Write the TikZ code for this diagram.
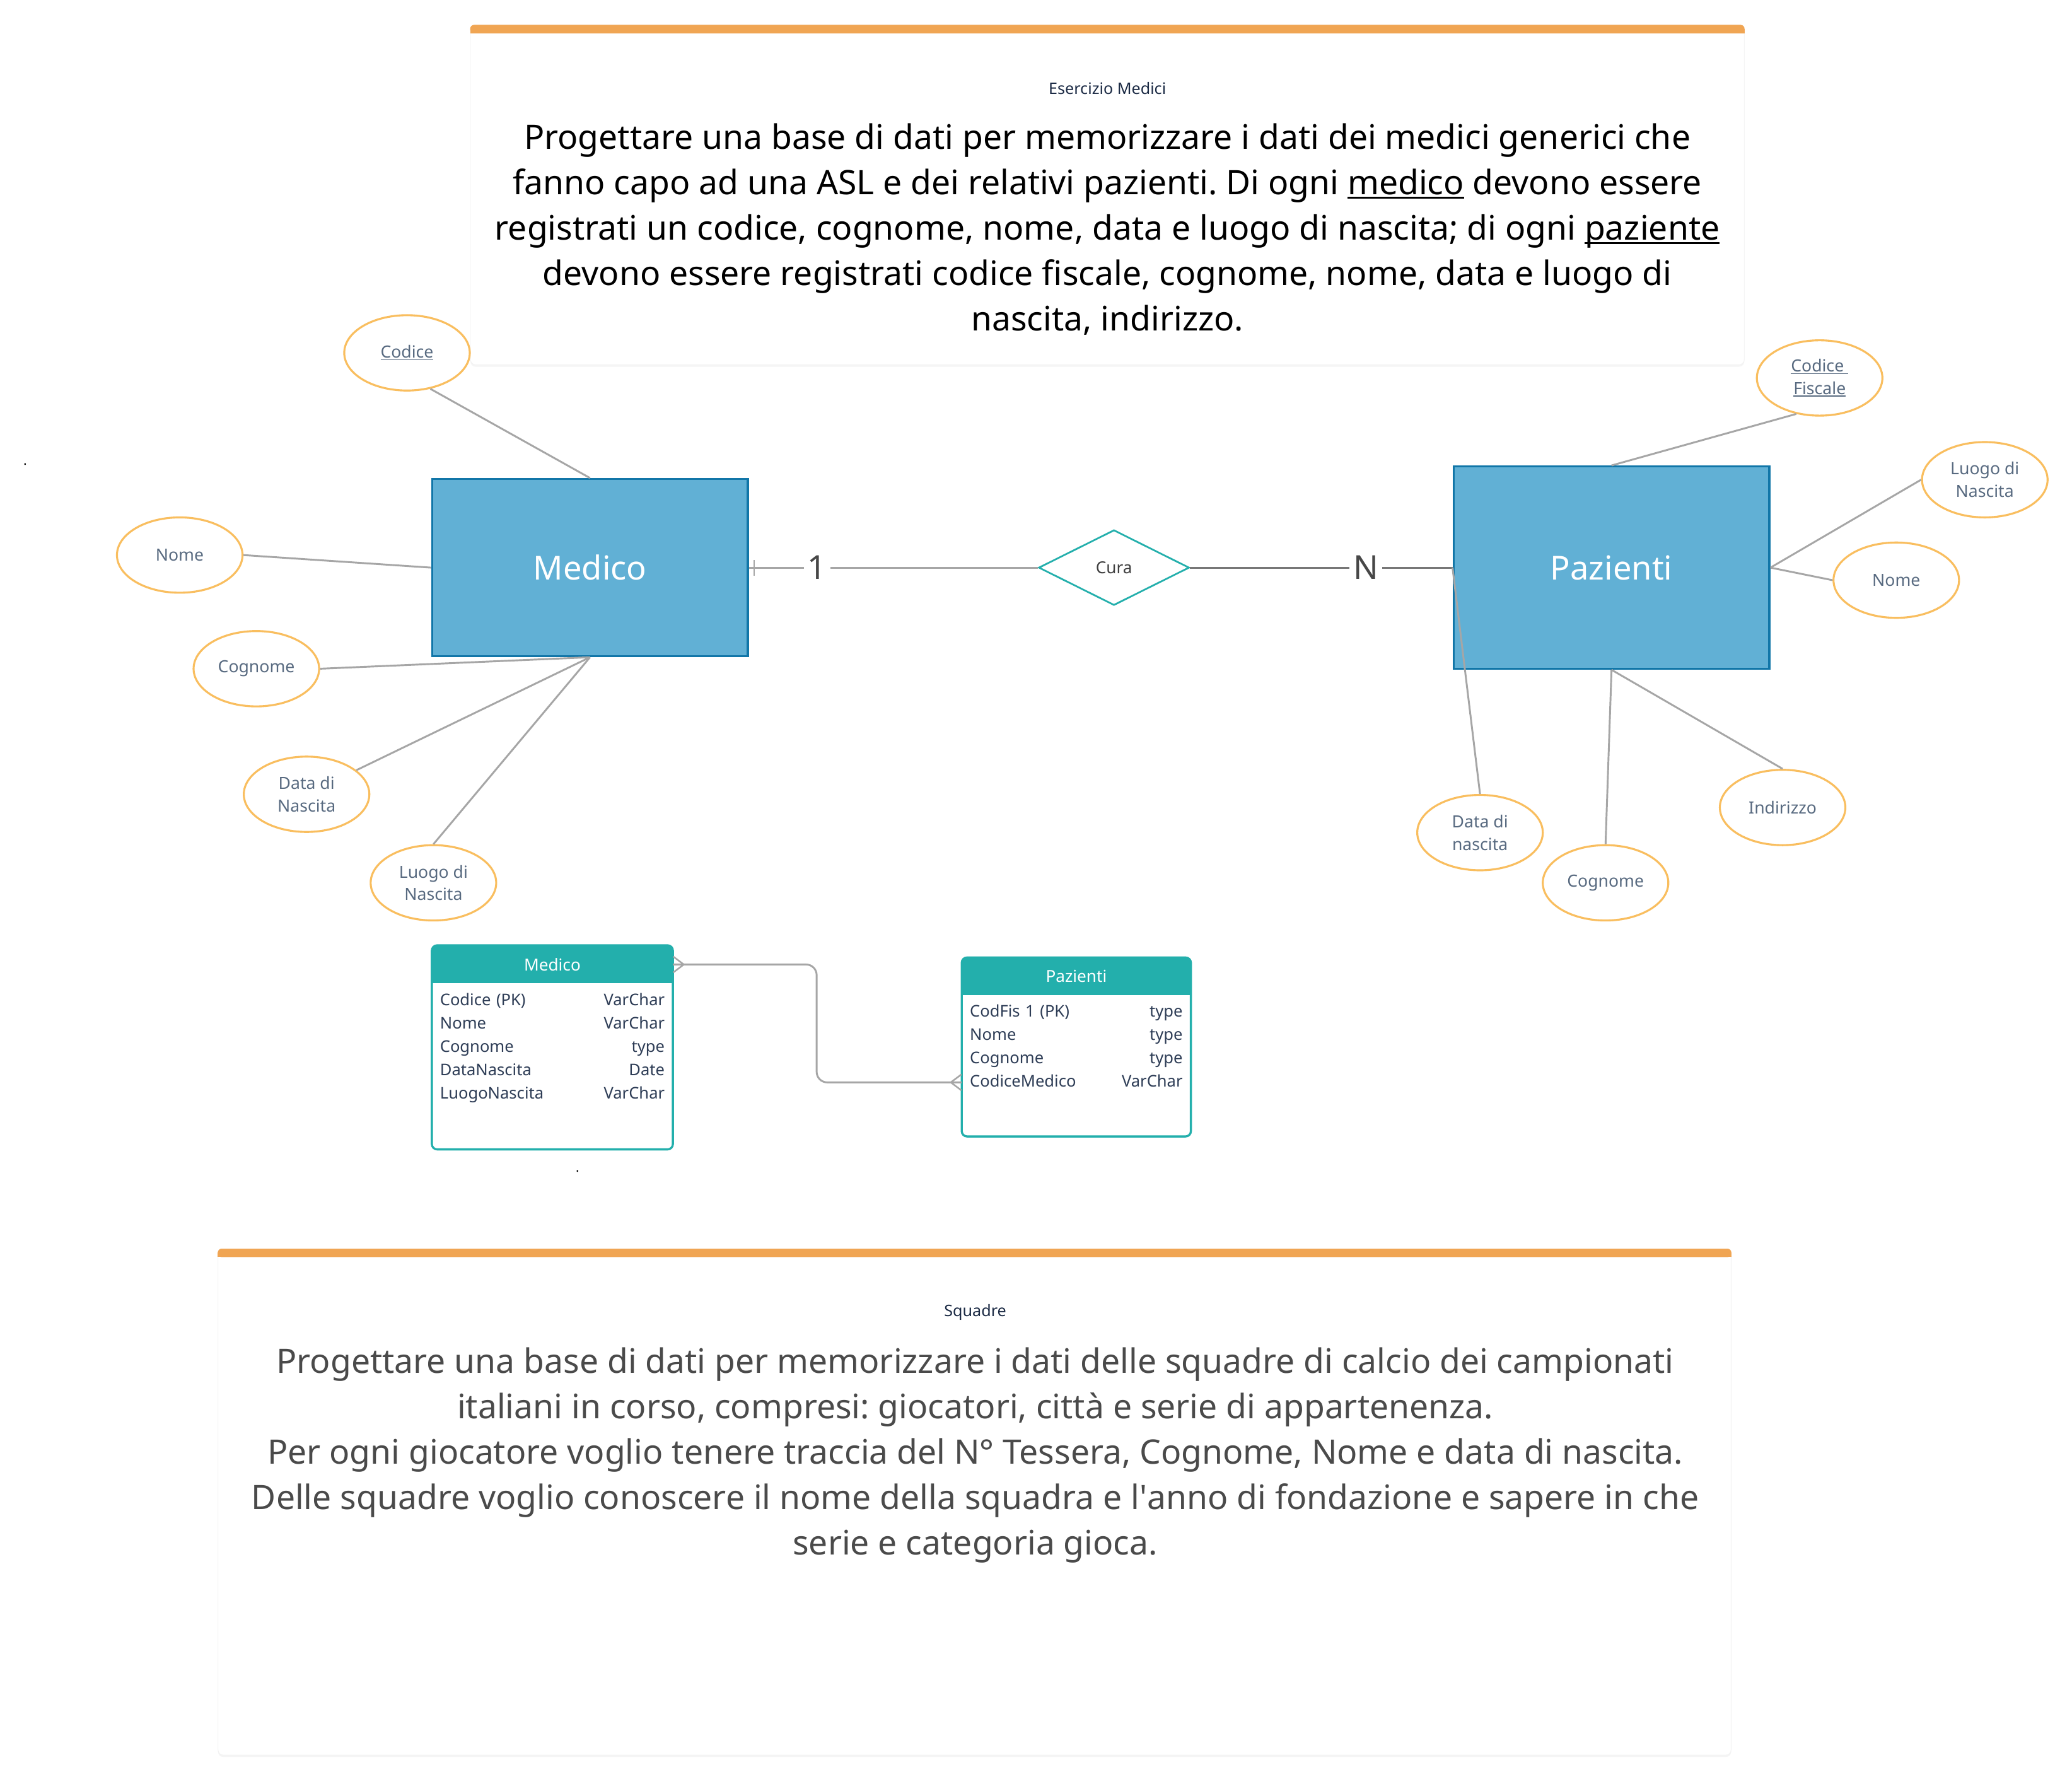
\documentclass[tikz,border=0pt]{standalone}
\usepackage{fontspec}
\setmainfont{Noto Sans}
\usetikzlibrary{positioning,shapes.geometric,shadows,decorations.markings}

\definecolor{cardorange}{HTML}{F0A553}
\definecolor{titlenavy}{HTML}{1B2A44}
\definecolor{entfill}{HTML}{61B0D5}
\definecolor{entline}{HTML}{1176A8}
\definecolor{tealc}{HTML}{23AFAC}
\definecolor{attline}{HTML}{F9BE5F}
\definecolor{atttext}{HTML}{586A80}
\definecolor{linkgray}{HTML}{A6A6A6}
\definecolor{linkdark}{HTML}{777777}
\definecolor{tabtext}{HTML}{2E3D56}
\definecolor{bodygray}{HTML}{4A4A4A}

\frenchspacing
% underline with a rule that scales with the font
\newcommand\undl[1]{\setbox0\hbox{#1}\rlap{\rule[-0.13em]{\wd0}{0.06em}}\box0\relax}

\begin{document}
\begin{tikzpicture}[x=1pt,y=-1pt,
  card/.style={rectangle, fill=white, draw=black!5, rounded corners=4pt,
    drop shadow={shadow xshift=0pt, shadow yshift=-1.5pt, opacity=0.08}},
  cardtitle/.style={text=titlenavy, font=\fontsize{12}{15}\selectfont},
  cardtext/.style={align=center, font=\fontsize{25.5}{34.4}\selectfont},
  entity/.style={rectangle, fill=entfill, draw=entline, line width=1.6pt,
    text=white, font=\fontsize{25}{30}\selectfont},
  relation/.style={diamond, aspect=2, draw=tealc, line width=1.3pt, fill=white,
    inner sep=0pt, minimum width=114pt, minimum height=57pt,
    text=black!75, font=\fontsize{12.5}{15}\selectfont},
  attrib/.style={ellipse, draw=attline, line width=1.5pt, fill=white,
    inner sep=0pt, minimum width=95pt, minimum height=57pt, align=center,
    text=atttext, font=\fontsize{12.7}{17}\selectfont},
  attlink/.style={draw=linkgray, line width=1.4pt},
  mult/.style={fill=white, inner sep=3pt, text=black!72,
    font=\fontsize{25}{30}\selectfont},
  onelink/.style={draw=linkgray, line width=1.4pt, postaction={decorate},
    decoration={markings, mark=at position 4pt with
      {\draw[linkgray, line width=1.2pt] (0pt,-6pt) -- (0pt,6pt);}}},
  manylink/.style={draw=linkdark, line width=1.4pt},
  fklink/.style={draw=linkgray, line width=1.4pt, rounded corners=8pt,
    postaction={decorate}, decoration={markings,
      mark=at position 0.001 with
        {\draw[linkgray, line width=1.2pt, sharp corners] (0pt,-6pt) -- (8pt,0pt) -- (0pt,6pt);},
      mark=at position 0.999 with
        {\draw[linkgray, line width=1.2pt, sharp corners] (0pt,-6pt) -- (-8pt,0pt) -- (0pt,6pt);}}},
  tabframe/.style={rectangle, fill=white, inner sep=0pt},
  tabhead/.style={text=white, font=\fontsize{12.5}{15}\selectfont},
  colname/.style={text=tabtext, font=\fontsize{12.2}{15}\selectfont,
    text width=100pt, align=left, inner sep=0pt, minimum height=17.4pt,
    text height=9.5pt, text depth=3pt},
  coltype/.style={colname, align=right, text width=60pt},
]
\useasboundingbox (0,0) rectangle (1568,1346);
\fill[white] (0,0) rectangle (1568,1346);

% exercise card: medici
\node[card, minimum width=964pt, minimum height=257pt] (ex1) at (838,147.5) {};
\fill[cardorange, rounded corners=3pt] (ex1.north west) rectangle ([yshift=-6.4pt]ex1.north east);
\fill[cardorange] ([yshift=-3pt]ex1.north west) rectangle ([yshift=-6.4pt]ex1.north east);
\node[cardtitle] (ex1-title) at (838,67) {Esercizio Medici};
\node[cardtext] (ex1-text) at (838,173.5) {Progettare una base di dati per memorizzare i dati dei medici generici che\\
  fanno capo ad una ASL e dei relativi pazienti. Di ogni \undl{medico} devono essere\\
  registrati un codice, cognome, nome, data e luogo di nascita; di ogni \undl{paziente}\\
  devono essere registrati codice fiscale, cognome, nome, data e luogo di\\
  nascita, indirizzo.};

% entities and relationship
\node[entity, minimum width=239pt, minimum height=134pt] (medico) at (446.5,429.5) {Medico};
\node[entity, minimum width=239pt, minimum height=153pt] (pazienti) at (1219.5,429.5) {Pazienti};
\node[relation] (cura) at (843,429.5) {Cura};

\draw[onelink] (medico.east) -- node[mult, pos=0.236] (card-one) {1} (cura.west);
\draw[manylink] (cura.east) -- node[mult, pos=0.67] (card-n) {N} (pazienti.west);

% attributes of Medico
\node[attrib] (m-codice) at (308,267) {\undl{Codice}};
\node[attrib] (m-nome) at (136,420) {Nome};
\node[attrib] (m-cognome) at (194,506) {Cognome};
\node[attrib] (m-data) at (232,601) {Data di\\Nascita};
\node[attrib] (m-luogo) at (328,668) {Luogo di\\Nascita};

\draw[attlink] (m-codice.-57) -- (medico.north);
\draw[attlink] (m-nome.east) -- (medico.west);
\draw[attlink] (m-cognome.east) -- (medico.south);
\draw[attlink] (m-data) -- (medico.south);
\draw[attlink] (m-luogo.north) -- (medico.south);

% attributes of Pazienti
\node[attrib] (p-codfis) at (1377,286) {\undl{Codice\ }\\\undl{Fiscale}};
\node[attrib] (p-luogo) at (1502,363) {Luogo di\\Nascita};
\node[attrib] (p-nome) at (1435,439) {Nome};
\node[attrib] (p-indirizzo) at (1349,611) {Indirizzo};
\node[attrib] (p-cognome) at (1215,668) {Cognome};
\node[attrib] (p-data) at (1120,630) {Data di\\nascita};

\draw[attlink] (p-codfis.237) -- (pazienti.north);
\draw[attlink] (p-luogo.west) -- (pazienti.east);
\draw[attlink] (p-nome.west) -- (pazienti.east);
\draw[attlink] (p-indirizzo.north) -- (pazienti.south);
\draw[attlink] (p-cognome.north) -- (pazienti.south);
\draw[attlink] (p-data.north) -- (pazienti.west);

% table Medico
\node[tabframe, minimum width=182pt, minimum height=154pt] (tmed) at (418,792.5) {};
\fill[tealc, rounded corners=4pt] (tmed.north west) rectangle ([yshift=-28.5pt]tmed.north east);
\fill[tealc] ([yshift=-14pt]tmed.north west) rectangle ([yshift=-28.5pt]tmed.north east);
\draw[tealc, line width=1.6pt, rounded corners=4pt] (tmed.north west) rectangle (tmed.south east);
\node[tabhead] (tmed-h) at ([yshift=-14.5pt]tmed.north) {Medico};
\matrix (tmed-rows) [anchor=north west, column sep=10pt, inner sep=0pt]
  at ([xshift=6pt,yshift=-33.3pt]tmed.north west)
  {
    \node[colname] {Codice (PK)}; & \node[coltype] {VarChar}; \\
    \node[colname] {Nome}; & \node[coltype] {VarChar}; \\
    \node[colname] {Cognome}; & \node[coltype] {type}; \\
    \node[colname] {DataNascita}; & \node[coltype] {Date}; \\
    \node[colname] {LuogoNascita}; & \node[coltype] {VarChar}; \\
  };

% table Pazienti
\node[tabframe, minimum width=173pt, minimum height=135pt] (tpaz) at (814.5,792.2) {};
\fill[tealc, rounded corners=4pt] (tpaz.north west) rectangle ([yshift=-28.3pt]tpaz.north east);
\fill[tealc] ([yshift=-14pt]tpaz.north west) rectangle ([yshift=-28.3pt]tpaz.north east);
\draw[tealc, line width=1.6pt, rounded corners=4pt] (tpaz.north west) rectangle (tpaz.south east);
\node[tabhead] (tpaz-h) at ([yshift=-14.3pt]tpaz.north) {Pazienti};
\matrix (tpaz-rows) [anchor=north west, column sep=1pt, inner sep=0pt]
  at ([xshift=6pt,yshift=-32.6pt]tpaz.north west)
  {
    \node[colname] {CodFis 1 (PK)}; & \node[coltype] {type}; \\
    \node[colname] {Nome}; & \node[coltype] {type}; \\
    \node[colname] {Cognome}; & \node[coltype] {type}; \\
    \node[colname] (pz-cm) {CodiceMedico}; & \node[coltype] {VarChar}; \\
  };

% foreign key link
\coordinate (fkbend) at (618,775);
\draw[fklink] (tmed.east |- tmed-h) -| (fkbend) |- (tpaz.west |- pz-cm);

% stray dots
\node[font=\fontsize{10}{12}\selectfont, inner sep=0pt, anchor=base] (dot1) at (19,352) {.};
\node[font=\fontsize{10}{12}\selectfont, inner sep=0pt, anchor=base] (dot2) at (437,887) {.};

% exercise card: squadre
\node[card, minimum width=1145pt, minimum height=383pt] (ex2) at (737.5,1136.5) {};
\fill[cardorange, rounded corners=3pt] (ex2.north west) rectangle ([yshift=-6.4pt]ex2.north east);
\fill[cardorange] ([yshift=-3pt]ex2.north west) rectangle ([yshift=-6.4pt]ex2.north east);
\node[cardtitle] (ex2-title) at (738,993) {Squadre};
\node[cardtext, text=bodygray] (ex2-text) at (738,1101) {Progettare una base di dati per memorizzare i dati delle squadre di calcio dei campionati\\
  italiani in corso, compresi: giocatori, città e serie di appartenenza.\\
  Per ogni giocatore voglio tenere traccia del N° Tessera, Cognome, Nome e data di nascita.\\
  Delle squadre voglio conoscere il nome della squadra e l\textquotesingle anno di fondazione e sapere in che\\
  serie e categoria gioca.};
\end{tikzpicture}
\end{document}
